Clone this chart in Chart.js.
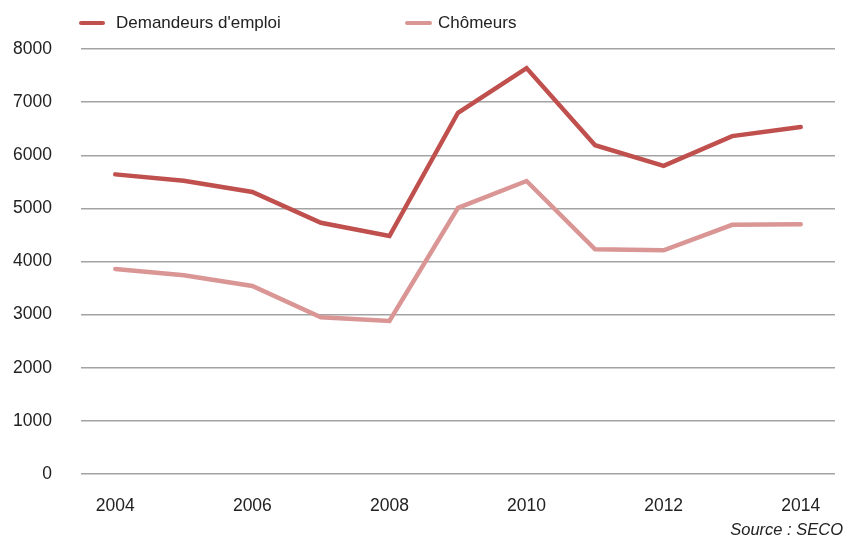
<!DOCTYPE html>
<html>
<head>
<meta charset="utf-8">
<script src="https://cdn.jsdelivr.net/npm/chart.js@4"></script>
<style>
  html, body { margin: 0; padding: 0; background: #fff; }
  #wrap { position: relative; width: 845px; height: 535px; font-family: "Liberation Sans", Arial, sans-serif; color: #222; }
  #c { position: absolute; left: 0; top: 0; }
  .lg { position: absolute; font-size: 17px; line-height: 20px; white-space: nowrap; }
  .mk { position: absolute; height: 4.5px; border-radius: 3px; }
  #src { position: absolute; right: 2px; top: 519px; font-size: 16.5px; font-style: italic; line-height: 20px; }
</style>
</head>
<body>
<div id="wrap">
  <canvas id="c" width="845" height="535"></canvas>
  <div class="mk" id="mk0" style="left:79px; top:20.5px; width:26px;"></div>
  <div class="lg" id="lg0" style="left:116px; top:13px;"></div>
  <div class="mk" id="mk1" style="left:405px; top:20.5px; width:27px;"></div>
  <div class="lg" id="lg1" style="left:438px; top:13px;"></div>
  <div id="src">Source : SECO</div>
</div>
<script>
const years = ['2004','2005','2006','2007','2008','2009','2010','2011','2012','2013','2014'];
const seriesNames = ["Demandeurs d'emploi", "Chômeurs"];
const demandeurs = [5640, 5520, 5310, 4730, 4480, 6800, 7640, 6190, 5800, 6360, 6530];
const chomeurs   = [3860, 3740, 3540, 2950, 2880, 5010, 5515, 4230, 4210, 4690, 4700];
const yTicks = [0, 1000, 2000, 3000, 4000, 5000, 6000, 7000, 8000];
const colors = ['#c0504d', '#d99694'];

document.getElementById('lg0').textContent = seriesNames[0];
document.getElementById('lg1').textContent = seriesNames[1];
document.getElementById('mk0').style.background = colors[0];
document.getElementById('mk1').style.background = colors[1];

const font = { family: '"Liberation Sans", Arial, sans-serif', size: 17.5 };

new Chart(document.getElementById('c'), {
  type: 'line',
  data: {
    labels: years,
    datasets: [
      { label: seriesNames[0], data: demandeurs, borderColor: colors[0], backgroundColor: colors[0],
        borderWidth: 4.5, pointRadius: 0, tension: 0, borderCapStyle: 'round', borderJoinStyle: 'miter' },
      { label: seriesNames[1], data: chomeurs, borderColor: colors[1], backgroundColor: colors[1],
        borderWidth: 4.5, pointRadius: 0, tension: 0, borderCapStyle: 'round', borderJoinStyle: 'miter' }
    ]
  },
  options: {
    responsive: false,
    animation: false,
    events: [],
    layout: { padding: { top: 49, right: 10, left: 0, bottom: 0 } },
    plugins: { legend: { display: false }, tooltip: { enabled: false } },
    scales: {
      x: {
        type: 'category',
        offset: true,
        grid: { display: false, drawTicks: false },
        border: { display: false },
        afterFit: s => { s.height = 61; },
        ticks: {
          autoSkip: false, maxRotation: 0, minRotation: 0, padding: 22,
          color: '#222', font: font,
          callback: (v, i) => (i % 2 === 0 ? years[i] : '')
        }
      },
      y: {
        min: 0, max: 8000,
        afterBuildTicks: s => { s.ticks = yTicks.map(v => ({ value: v })); },
        afterFit: s => { s.width = 81; },
        grid: { color: '#a3a3a3', lineWidth: 1.5, drawTicks: false },
        border: { display: false },
        ticks: { padding: 29, color: '#222', font: font, callback: v => String(v) }
      }
    }
  }
});
</script>
</body>
</html>
